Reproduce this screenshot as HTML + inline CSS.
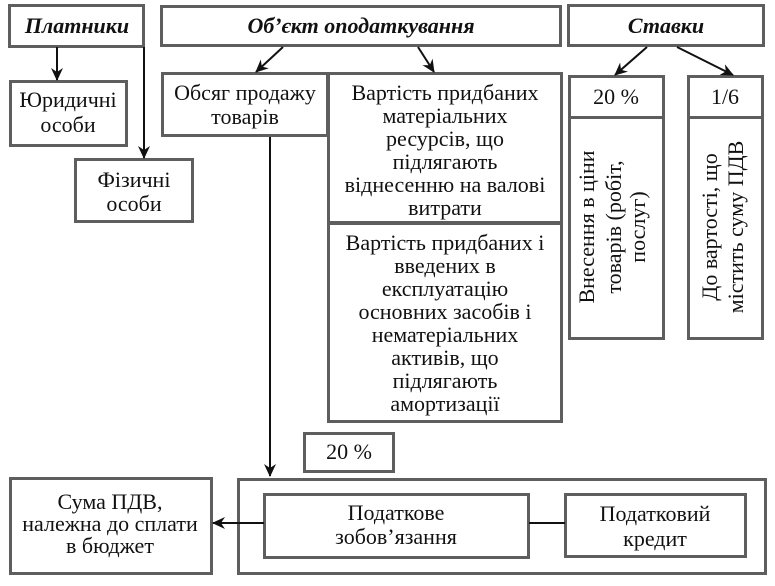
<!DOCTYPE html>
<html><head><meta charset="utf-8"><style>
html,body{margin:0;padding:0;background:#fff;}
svg{display:block;}
text{font-family:"Liberation Serif",serif;fill:#111;}
.t{font-size:22px;}
.b{font-size:22px;font-weight:bold;font-style:italic;}
</style></head><body>
<svg width="775" height="586" viewBox="0 0 775 586" xmlns="http://www.w3.org/2000/svg">
<defs>
<marker id="a" markerWidth="14" markerHeight="12" refX="12" refY="6" orient="auto" markerUnits="userSpaceOnUse">
<path d="M0,0 L13,6 L0,12 L4,6 Z" fill="#111"/>
</marker>
</defs>
<g fill="#fff" stroke="#5e5e5e" stroke-width="3">
<rect x="9.5" y="5.5" width="134" height="41"/>
<rect x="161.5" y="6.5" width="399" height="39"/>
<rect x="568.5" y="5.5" width="195" height="40"/>
<rect x="10.5" y="81.5" width="116" height="64"/>
<rect x="75.5" y="159.5" width="117" height="62"/>
<rect x="162.5" y="73.5" width="165" height="62"/>
<rect x="328.5" y="73.5" width="233" height="149"/>
<rect x="328.5" y="223.5" width="233" height="198"/>
<rect x="304.5" y="433.5" width="89" height="38"/>
<rect x="569.5" y="76.5" width="94" height="41"/>
<rect x="569.5" y="117.5" width="94" height="221"/>
<rect x="688.5" y="76.5" width="74" height="41"/>
<rect x="688.5" y="117.5" width="74" height="221"/>
<rect x="10.5" y="478.5" width="201" height="95"/>
<rect x="238.5" y="479.5" width="527" height="94"/>
<rect x="264.5" y="494.5" width="264" height="63"/>
<rect x="565.5" y="494.5" width="180" height="62"/>
</g>
<g stroke="#111" stroke-width="2" fill="none">
<line x1="57" y1="47" x2="57" y2="80" marker-end="url(#a)"/>
<line x1="144" y1="47" x2="144" y2="158" marker-end="url(#a)"/>
<line x1="283" y1="47" x2="256" y2="72" marker-end="url(#a)"/>
<line x1="418" y1="47" x2="434" y2="72" marker-end="url(#a)"/>
<line x1="647" y1="47" x2="615" y2="75" marker-end="url(#a)"/>
<line x1="677" y1="47" x2="733" y2="75" marker-end="url(#a)"/>
<line x1="270" y1="137" x2="270" y2="476" marker-end="url(#a)"/>
<line x1="264" y1="523" x2="213" y2="523" marker-end="url(#a)"/>
<line x1="529" y1="523" x2="565" y2="523"/>
</g>
<g text-anchor="middle">
<text class="b" x="77" y="33">Платники</text>
<text class="b" x="361" y="33">Об’єкт оподаткування</text>
<text class="b" x="666" y="33">Ставки</text>

<text class="t" x="68" y="107">Юридичні</text>
<text class="t" x="68" y="132">особи</text>

<text class="t" x="134" y="187">Фізичні</text>
<text class="t" x="134" y="211">особи</text>

<text class="t" x="245" y="100">Обсяг продажу</text>
<text class="t" x="245" y="124">товарів</text>

<text class="t" x="445" y="100">Вартість придбаних</text>
<text class="t" x="445" y="123">матеріальних</text>
<text class="t" x="445" y="146">ресурсів, що</text>
<text class="t" x="445" y="169">підлягають</text>
<text class="t" x="445" y="192">віднесенню на валові</text>
<text class="t" x="445" y="215">витрати</text>

<text class="t" x="445" y="250">Вартість придбаних і</text>
<text class="t" x="445" y="273">введених в</text>
<text class="t" x="445" y="296">експлуатацію</text>
<text class="t" x="445" y="319">основних засобів і</text>
<text class="t" x="445" y="342">нематеріальних</text>
<text class="t" x="445" y="365">активів, що</text>
<text class="t" x="445" y="388">підлягають</text>
<text class="t" x="445" y="411">амортизації</text>

<text class="t" x="349" y="459">20 %</text>
<text class="t" x="616" y="104">20 %</text>
<text class="t" x="725" y="104">1/6</text>

<g transform="translate(616,227) rotate(-90)">
<text class="t" x="0" y="-22">Внесення в ціни</text>
<text class="t" x="0" y="5">товарів (робіт,</text>
<text class="t" x="0" y="29">послуг)</text>
</g>
<g transform="translate(724,227) rotate(-90)">
<text class="t" x="0" y="-7">До вартості, що</text>
<text class="t" x="0" y="19">містить суму ПДВ</text>
</g>

<text class="t" x="110" y="509">Сума ПДВ,</text>
<text class="t" x="110" y="531">належна до сплати</text>
<text class="t" x="110" y="553">в бюджет</text>

<text class="t" x="396" y="520">Податкове</text>
<text class="t" x="396" y="544">зобов’язання</text>

<text class="t" x="655" y="521">Податковий</text>
<text class="t" x="655" y="546">кредит</text>
</g>
</svg>
</body></html>
